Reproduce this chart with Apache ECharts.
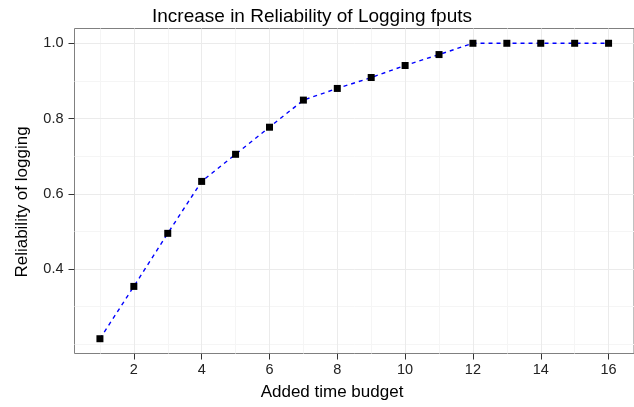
<!DOCTYPE html>
<html>
<head>
<meta charset="utf-8">
<script src="https://cdn.jsdelivr.net/npm/echarts@6/dist/echarts.min.js"></script>
<style>
  html, body { margin: 0; padding: 0; background: #ffffff; }
  #chart { width: 634px; height: 407px; }
</style>
</head>
<body>
<div id="chart"></div>
<script>
// Added time budget (x) and the measured reliability of logging fputs (y)
const budget = [1, 2, 3, 4, 5, 6, 7, 8, 9, 10, 11, 12, 13, 14, 15, 16];
const reliability = [0.215, 0.354, 0.495, 0.633, 0.705, 0.777, 0.849, 0.880, 0.909, 0.941, 0.970, 1.0, 1.0, 1.0, 1.0, 1.0];

// Tick positions (major, labelled) and minor grid positions
const xTicks = [2, 4, 6, 8, 10, 12, 14, 16];
const xMinor = [1, 3, 5, 7, 9, 11, 13, 15];
const yTicks = [0.4, 0.6, 0.8, 1.0];
const yMinor = [0.2, 0.3, 0.5, 0.7, 0.9];

const titleText = 'Increase in Reliability of Logging fputs';
const xTitle = 'Added time budget';
const yTitle = 'Reliability of logging';

// Axis ranges padded by 5% of the data span on each side
const xSpan = Math.max(...budget) - Math.min(...budget);
const xMin = Math.min(...budget) - xSpan * 0.05;
const xMax = Math.max(...budget) + xSpan * 0.05;
const ySpan = Math.max(...reliability) - Math.min(...reliability);
const yMin = Math.min(...reliability) - ySpan * 0.05;
const yMax = Math.max(...reliability) + ySpan * 0.05;

const FONT = '"Liberation Sans", Arial, Helvetica, sans-serif';

const chart = echarts.init(document.getElementById('chart'), null, { renderer: 'canvas' });

function minorAxis(values, min, max) {
  return {
    type: 'value', min: min, max: max,
    axisLine: { show: false },
    axisTick: { show: false, customValues: values },
    axisLabel: { show: false, customValues: values },
    splitLine: { show: true, lineStyle: { color: '#f5f5f5', width: 1 } },
    z: 0
  };
}

chart.setOption({
  animation: false,
  backgroundColor: '#ffffff',
  grid: {
    left: 74.5, right: -1, top: 28.5, bottom: 53.5,
    show: true, borderColor: '#808080', borderWidth: 1, backgroundColor: 'transparent'
  },
  xAxis: [
    {
      type: 'value', min: xMin, max: xMax,
      axisLine: { show: false },
      axisTick: { show: true, length: 6, lineStyle: { color: '#333333', width: 1 }, customValues: xTicks },
      axisLabel: { customValues: xTicks, fontSize: 14.5, color: '#222222', fontFamily: FONT, margin: 9 },
      splitLine: { show: true, lineStyle: { color: '#ebebeb', width: 1 } },
      z: 1
    },
    minorAxis(xMinor, xMin, xMax)
  ],
  yAxis: [
    {
      type: 'value', min: yMin, max: yMax,
      axisLine: { show: false },
      axisTick: { show: true, length: 6, lineStyle: { color: '#333333', width: 1 }, customValues: yTicks },
      axisLabel: {
        customValues: yTicks, fontSize: 14.5, color: '#222222', fontFamily: FONT, margin: 11,
        formatter: v => v.toFixed(1)
      },
      splitLine: { show: true, lineStyle: { color: '#ebebeb', width: 1 } },
      z: 1
    },
    minorAxis(yMinor, yMin, yMax)
  ],
  series: [{
    type: 'line',
    xAxisIndex: 0, yAxisIndex: 0,
    data: budget.map((x, i) => [x, reliability[i]]),
    symbol: 'rect',
    symbolSize: 7,
    showAllSymbol: true,
    itemStyle: { color: '#000000', borderWidth: 0 },
    lineStyle: { color: '#0000ff', width: 1.4, type: [4, 4] },
    z: 5
  }],
  graphic: [
    {
      type: 'text', x: 312, y: 17,
      style: { text: titleText, font: '19px ' + FONT, fill: '#000000', align: 'center', verticalAlign: 'middle' }
    },
    {
      type: 'text', x: 332, y: 392,
      style: { text: xTitle, font: '17px ' + FONT, fill: '#000000', align: 'center', verticalAlign: 'middle' }
    },
    {
      type: 'text', x: 22, y: 202, rotation: Math.PI / 2,
      style: { text: yTitle, font: '17px ' + FONT, fill: '#000000', align: 'center', verticalAlign: 'middle' }
    }
  ]
});
</script>
</body>
</html>
